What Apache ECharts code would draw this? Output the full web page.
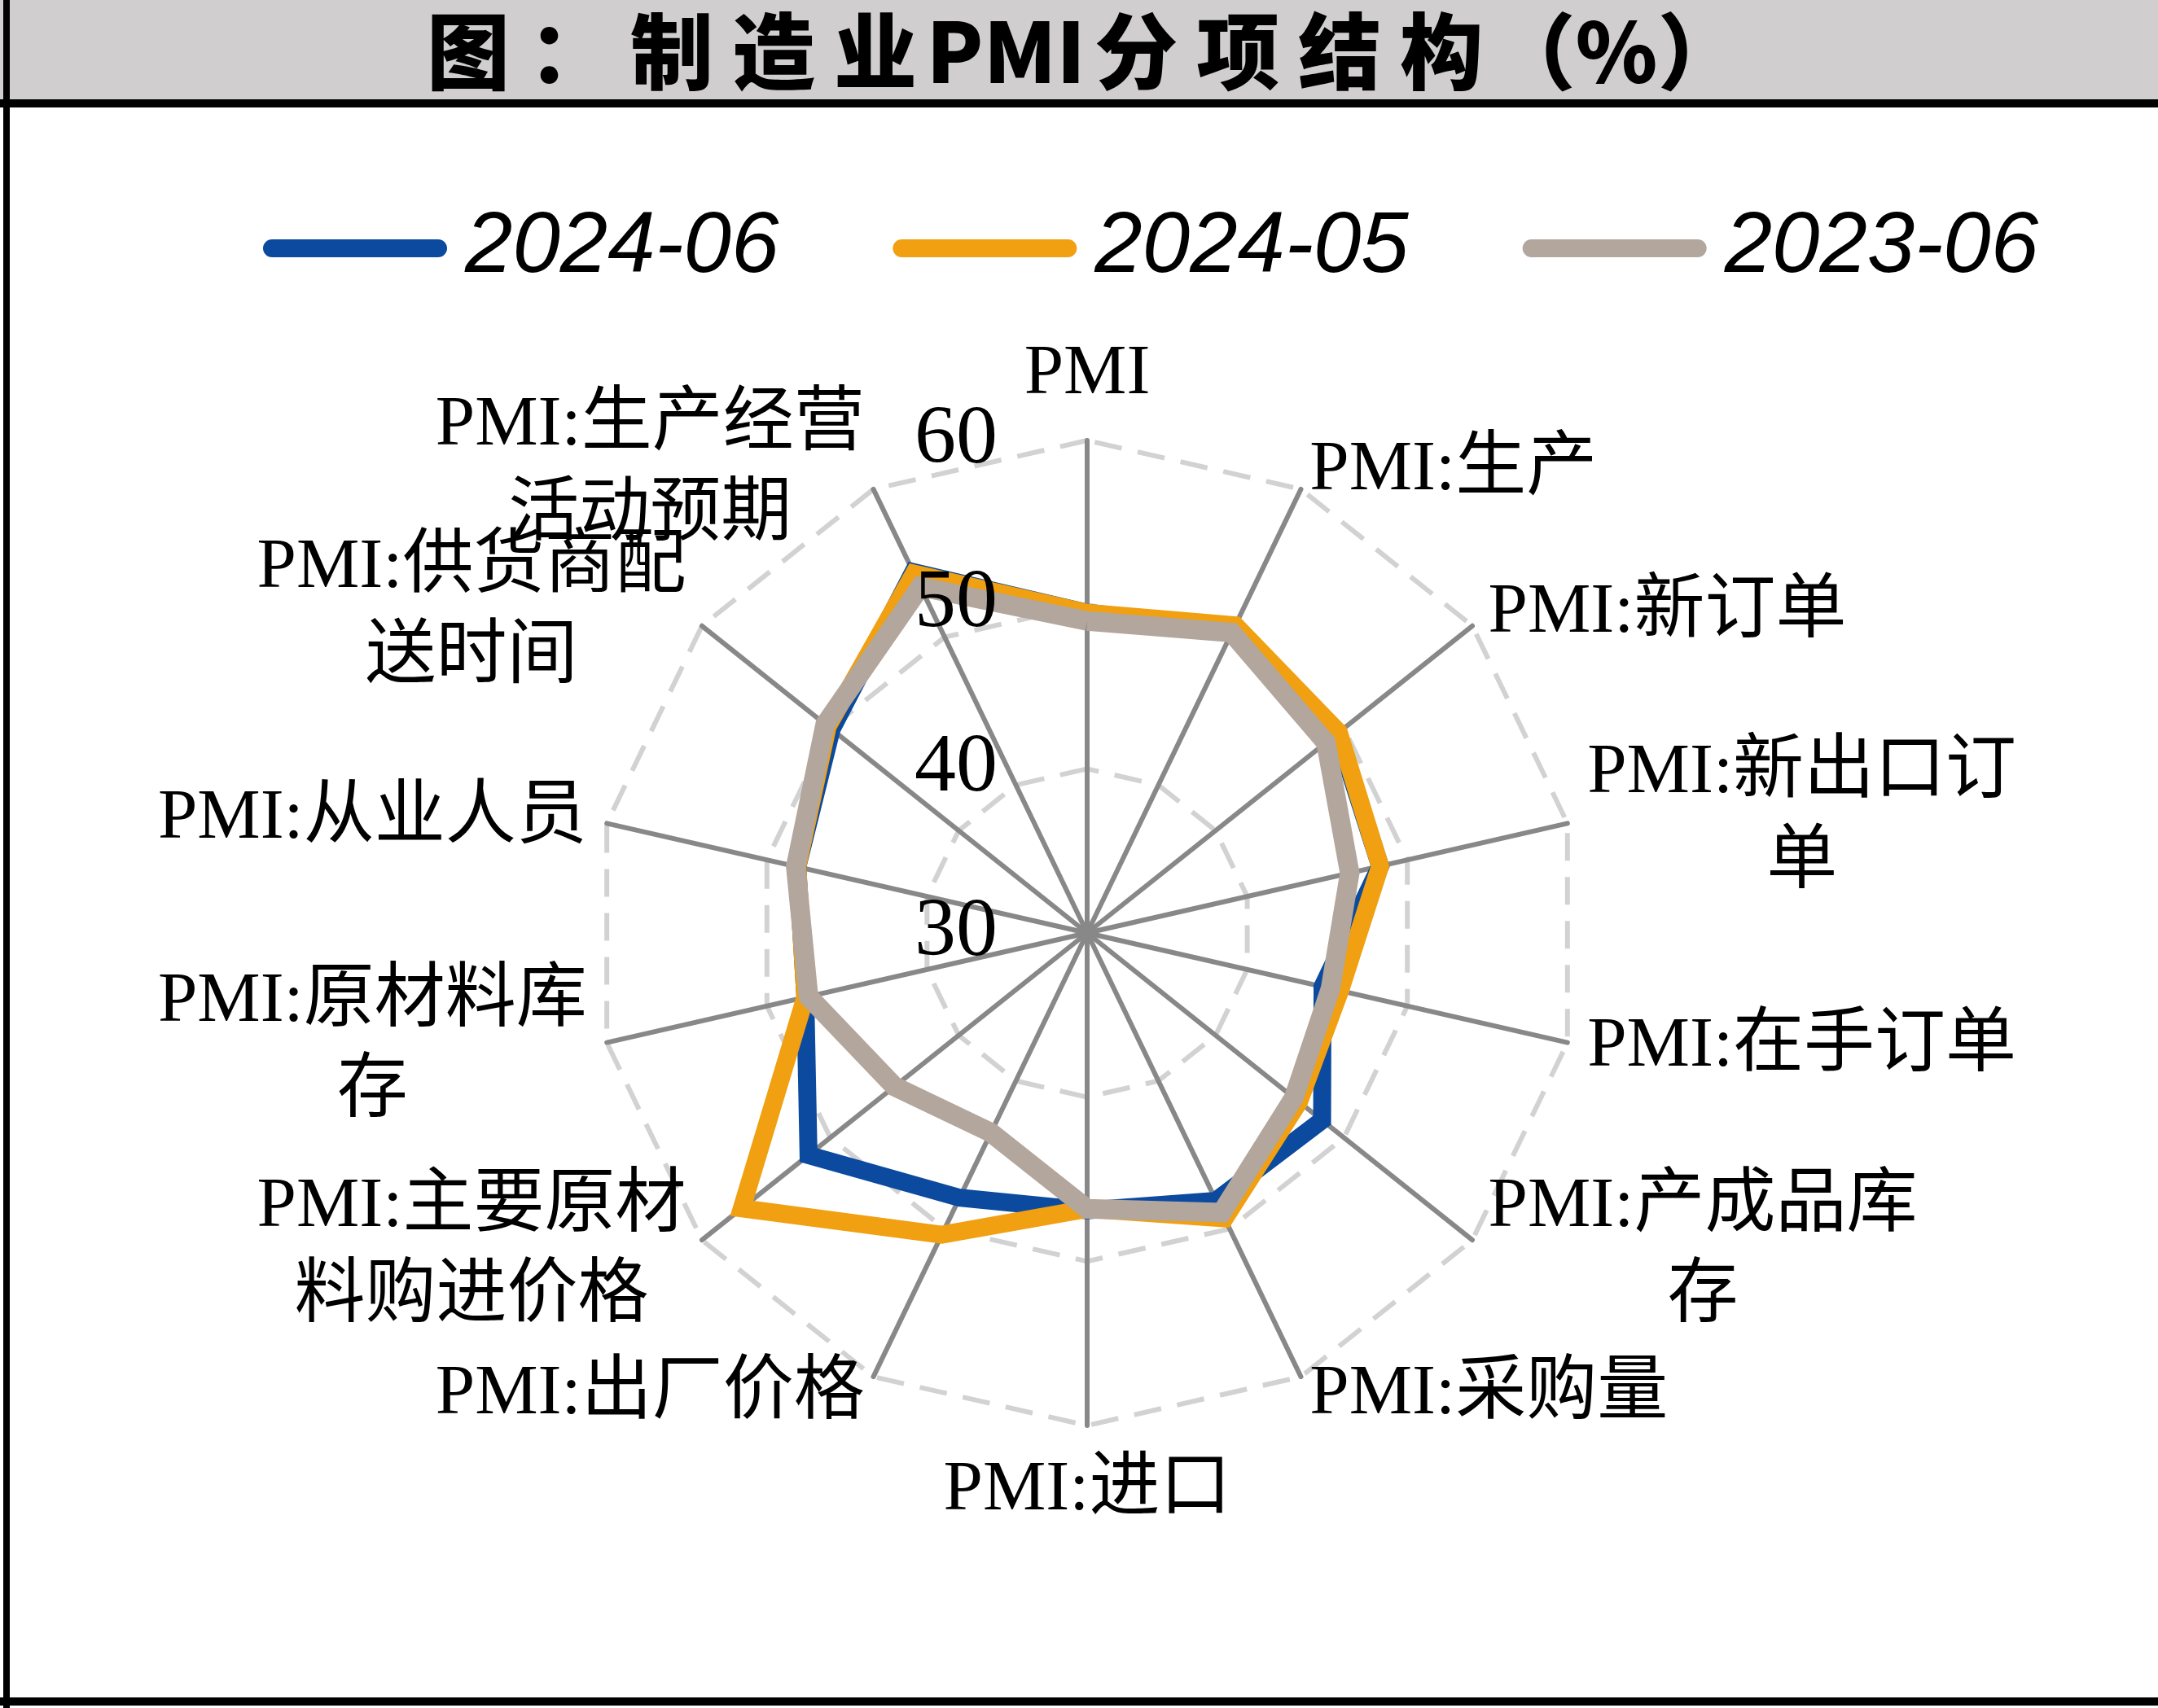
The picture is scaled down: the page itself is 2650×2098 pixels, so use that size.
<!DOCTYPE html>
<html>
<head>
<meta charset="utf-8">
<script src="https://cdn.jsdelivr.net/npm/echarts@6/dist/echarts.min.js"></script>
<style>
html,body{margin:0;padding:0;background:#ffffff;}
#chart{width:2650px;height:2098px;}
</style>
</head>
<body>
<div id="chart"></div>
<script>
// ---------------- data ----------------
const titleText = '图：制造业PMI分项结构（%）';
const categories = [
  'PMI', 'PMI:生产', 'PMI:新订单', 'PMI:新出口订单', 'PMI:在手订单',
  'PMI:产成品库存', 'PMI:采购量', 'PMI:进口', 'PMI:出厂价格',
  'PMI:主要原材料购进价格', 'PMI:原材料库存', 'PMI:从业人员',
  'PMI:供货商配送时间', 'PMI:生产经营活动预期'
];
const seriesNames = ['2024-06', '2024-05', '2023-06'];
const v202406 = [49.5, 50.6, 49.5, 48.3, 44.7, 48.3, 48.1, 46.9, 47.9, 51.7, 47.6, 48.1, 49.9, 54.4];
const v202405 = [49.5, 50.8, 49.6, 48.3, 45.8, 46.5, 49.3, 46.8, 50.4, 56.9, 47.6, 48.1, 50.2, 54.3];
const v202306 = [49.0, 50.3, 48.6, 46.4, 45.2, 46.1, 48.9, 46.8, 43.5, 45.0, 47.4, 48.2, 50.4, 53.4];
const axisMin = 30, axisMax = 60, axisInterval = 10;
const colors = ['#0b4a9e', '#f0a011', '#b3a69c'];

// ---------------- build ----------------
const seriesValues = [v202406, v202405, v202306];
// ECharts lays indicators out counter-clockwise; reorder so they run clockwise from the top
const order = [0].concat(categories.slice(1).map((_, i) => categories.length - 1 - i));
const splitNumber = (axisMax - axisMin) / axisInterval;

const CENTER = [1335, 1146];
const RADIUS = 605;
const nameFont = "'Liberation Serif', 'Noto Sans CJK SC', serif";

function wrapName(name) {
  const chunks = [];
  for (let i = 0; i < name.length; i += 8) chunks.push(name.slice(i, i + 8));
  return chunks.map(c => '{n|' + c + '}').join('\n');
}

function richTitle(t) {
  let out = '';
  let ascii = '';
  for (const ch of t) {
    if (/[A-Za-z]/.test(ch)) { ascii += ch; continue; }
    if (ascii) { out += '{a|' + ascii + '}'; ascii = ''; }
    if (ch === '（' || ch === '）' || ch === '%') out += '{p|' + ch + '}';
    else out += '{h|' + ch + '}';
  }
  if (ascii) out += '{a|' + ascii + '}';
  return out;
}

const capsule = 'path://M11,0 L215,0 A11,11 0 0 1 215,22 L11,22 A11,11 0 0 1 11,0 Z';
const titleFont = "'Noto Sans CJK SC', sans-serif";

const option = {
  backgroundColor: '#ffffff',
  animation: false,
  graphic: [
    { type: 'rect', z: 0, shape: { x: 0, y: 0, width: 2650, height: 122 }, style: { fill: '#d0cecf' } },
    { type: 'rect', z: 0, shape: { x: 0, y: 122, width: 2650, height: 10 }, style: { fill: '#000000' } },
    { type: 'rect', z: 0, shape: { x: 4, y: 0, width: 8, height: 2098 }, style: { fill: '#000000' } },
    { type: 'rect', z: 0, shape: { x: 0, y: 2085, width: 2650, height: 10 }, style: { fill: '#000000' } }
  ],
  title: {
    text: richTitle(titleText),
    left: 'center',
    top: 2,
    z: 10,
    textStyle: {
      rich: {
        h: { width: 125, align: 'center', fontSize: 102, fontWeight: 900, fontFamily: titleFont, color: '#000', lineHeight: 112 },
        a: { fontSize: 102, fontWeight: 900, fontFamily: titleFont, color: '#000', lineHeight: 112 },
        p: { fontSize: 102, fontWeight: 900, fontFamily: titleFont, color: '#000', lineHeight: 112 }
      }
    }
  },
  legend: {
    data: seriesNames,
    left: 318,
    top: 240,
    itemWidth: 226,
    itemHeight: 22,
    itemGap: 140,
    icon: capsule,
    selectedMode: false,
    itemStyle: { borderWidth: 0 },
    textStyle: {
      fontSize: 105,
      fontStyle: 'italic',
      fontFamily: "'Liberation Sans', Arial, sans-serif",
      color: '#000',
      lineHeight: 120,
      padding: [0, 0, 0, 17]
    }
  },
  radar: [
    {
      center: CENTER,
      radius: RADIUS,
      startAngle: 90,
      shape: 'polygon',
      splitNumber: splitNumber,
      z: 1,
      indicator: order.map(i => ({ name: categories[i], min: axisMin, max: axisMax })),
      axisNameGap: 25,
      axisName: {
        show: true,
        color: '#000',
        fontSize: 87,
        fontFamily: nameFont,
        formatter: wrapName,
        rich: { n: { align: 'center', fontSize: 87, lineHeight: 111, fontFamily: nameFont, color: '#000' } }
      },
      axisLine: { show: true, lineStyle: { color: '#888888', width: 6 } },
      splitLine: { show: true, lineStyle: { color: '#d2d2d2', width: 6, type: [34, 20] } },
      splitArea: { show: false },
      axisTick: { show: false },
      axisLabel: { show: false }
    },
    {
      center: CENTER,
      radius: RADIUS,
      startAngle: 90,
      shape: 'polygon',
      splitNumber: splitNumber,
      z: 10,
      indicator: order.map((i, k) => {
        const o = { name: categories[i], min: axisMin, max: axisMax };
        if (k === 0) o.axisLabel = { show: true };
        return o;
      }),
      axisName: { show: false },
      axisLine: { show: false },
      splitLine: { show: false },
      splitArea: { show: false },
      axisTick: { show: false },
      axisLabel: {
        show: false,
        margin: 110,
        fontSize: 102,
        color: '#000',
        fontFamily: "'Liberation Serif', serif"
      }
    }
  ],
  series: [
    {
      type: 'radar',
      radarIndex: 0,
      symbol: 'none',
      z: 2,
      data: seriesNames.map((nm, s) => ({
        name: nm,
        value: order.map(i => seriesValues[s][i]),
        lineStyle: { color: colors[s], width: s === 2 ? 24 : 22, join: 'miter' },
        itemStyle: { color: colors[s] }
      }))
    }
  ]
};

const chart = echarts.init(document.getElementById('chart'), null, { renderer: 'canvas' });
chart.setOption(option);
</script>
</body>
</html>
